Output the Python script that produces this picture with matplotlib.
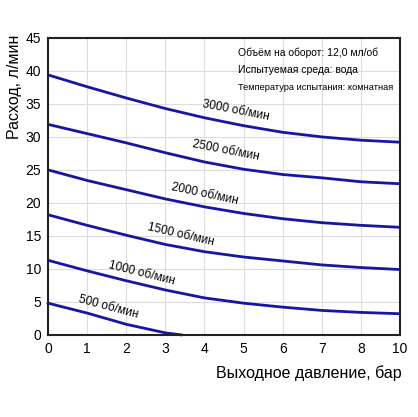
import matplotlib.pyplot as plt
import numpy as np

plt.rcParams['font.family'] = ['Liberation Sans', 'DejaVu Sans']

# axis positions (last tick is labelled "10" in the original)
pressure = [0, 1, 2, 3, 4, 5, 6, 7, 8, 9]
xtick_labels = ["0", "1", "2", "3", "4", "5", "6", "7", "8", "10"]

flow_3000 = [39.4, 37.6, 35.9, 34.3, 32.9, 31.7, 30.7, 30.0, 29.5, 29.2]
flow_2500 = [31.9, 30.5, 29.1, 27.6, 26.2, 25.1, 24.3, 23.8, 23.2, 22.9]
flow_2000 = [25.0, 23.4, 22.0, 20.6, 19.4, 18.4, 17.6, 17.0, 16.6, 16.3]
flow_1500 = [18.2, 16.6, 15.1, 13.7, 12.6, 11.8, 11.2, 10.6, 10.2, 9.9]
flow_1000 = [11.3, 9.7, 8.2, 6.8, 5.6, 4.8, 4.2, 3.7, 3.4, 3.2]
pressure_500 = [0, 1, 2, 3, 3.4]
flow_500 = [4.8, 3.3, 1.6, 0.3, 0.0]

curve_labels = ["3000 об/мин", "2500 об/мин", "2000 об/мин",
                "1500 об/мин", "1000 об/мин", "500 об/мин"]
label_x = [4.8, 4.55, 4.0, 3.4, 2.4, 1.55]
label_y = [34.0, 27.9, 21.3, 15.1, 9.4, 4.2]
label_rot = [-11, -11, -12, -13, -14, -15]

info = ["Объём на оборот: 12,0 мл/об",
        "Испытуемая среда: вода",
        "Температура испытания: комнатная"]

fig = plt.figure(figsize=(4.18, 4.17), dpi=100)
ax = fig.add_axes([0.115, 0.197, 0.842, 0.712])

blue = "#1616a6"
for y in [flow_3000, flow_2500, flow_2000, flow_1500, flow_1000]:
    ax.plot(pressure, y, color=blue, lw=2)
ax.plot(pressure_500, flow_500, color=blue, lw=2, clip_on=False)

for t, x, y, r in zip(curve_labels, label_x, label_y, label_rot):
    ax.text(x, y, t, rotation=r, ha='center', va='center', fontsize=8.5,
            rotation_mode='anchor')

ax.set_xlim(0, 9)
ax.set_ylim(0, 45)
ax.set_xticks(pressure)
ax.set_xticklabels(xtick_labels)
ax.set_yticks(np.arange(0, 46, 5))
ax.tick_params(length=0, labelsize=10, pad=5)
ax.grid(True, color="#dcdcdc", lw=0.8)
ax.set_axisbelow(True)
for s in ax.spines.values():
    s.set_linewidth(1.5)
    s.set_color("#222222")

ax.text(0.541, 0.94, info[0], transform=ax.transAxes, fontsize=7.5)
ax.text(0.541, 0.883, info[1], transform=ax.transAxes, fontsize=7.5)
ax.text(0.541, 0.826, info[2], transform=ax.transAxes, fontsize=6.7)

fig.text(402 / 418, 1 - 373 / 417, "Выходное давление, бар", ha='right',
         va='center', fontsize=11.5)
fig.text(15 / 418, 1 - 35 / 417, "Расход, л/мин", rotation=90, ha='center',
         va='top', fontsize=11.5)

fig.savefig("out.png", dpi=100)
